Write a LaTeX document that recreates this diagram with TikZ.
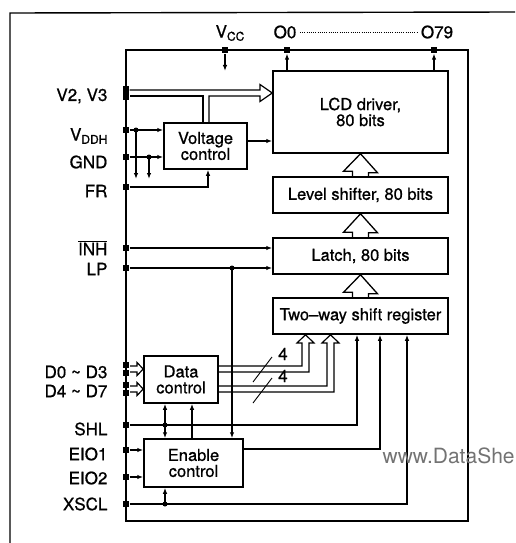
\documentclass[tikz,border=0pt]{standalone}
\usepackage{fontspec}
\setmainfont{TeX Gyre Heros}
\newfontfamily\heavy{TeX Gyre Heros}[FakeBold=0.8]
\usetikzlibrary{arrows.meta,calc}
\begin{document}
\begin{tikzpicture}[x=1pt,y=-1pt, line width=1.2pt,
  cbox/.style={draw, rectangle, line width=1.5pt, inner sep=0pt, align=center, font=\heavy\fontsize{16.5}{16}\selectfont},
  lbl/.style={anchor=east, inner sep=0pt, font=\heavy\fontsize{17}{17}\selectfont},
  toplbl/.style={inner sep=0pt, font=\heavy\fontsize{17}{17}\selectfont},
  pinsq/.style={rectangle, fill, minimum size=6pt, inner sep=0pt},
  jdot/.style={circle, fill, minimum size=5pt, inner sep=0pt},
  arr/.style={-{Latex[length=6pt,width=4.5pt]}},
  darr/.style={{Latex[length=6pt,width=4.5pt]}-{Latex[length=6pt,width=4.5pt]}},
]
\useasboundingbox (0,0) rectangle (515,543);
% outer frame
\draw[line width=1.4pt] (10,543) -- (10,13) -- (515,12);
% chip boundary
\node[draw, line width=1.3pt, minimum width=342pt, minimum height=471pt, inner sep=0pt] (chip) at (297,285.5) {};
% boxes
\node[cbox, minimum width=175pt, minimum height=82pt] (lcd) at (360.5,112) {LCD driver,\\80 bits};
\node[cbox, minimum width=83pt, minimum height=46pt] (vc) at (205.5,146) {Voltage\\control};
\node[cbox, minimum width=175pt, minimum height=36pt] (lvl) at (360.5,195) {Level shifter, 80 bits};
\node[cbox, minimum width=175pt, minimum height=36pt] (latch) at (360.5,256) {Latch, 80 bits};
\node[cbox, minimum width=175pt, minimum height=36pt] (sr) at (360.5,316) {Two–way shift register};
\node[cbox, minimum width=74pt, minimum height=47pt] (dc) at (181,379.5) {Data\\control};
\node[cbox, minimum width=99pt, minimum height=48pt] (ec) at (193.5,463) {Enable\\control};
% pins
\node[pinsq] (pvcc) at (225,50) {};
\node[pinsq] (po0) at (287,50) {};
\node[pinsq] (po79) at (434,50) {};
\node[fill, minimum width=6pt, minimum height=14pt, inner sep=0pt] (pv23) at (126,93) {};
\node[pinsq] (pvddh) at (126,130) {};
\node[pinsq] (pgnd) at (126,157) {};
\node[pinsq] (pfr) at (126,187) {};
\node[pinsq] (pinh) at (126,248) {};
\node[pinsq] (plp) at (126,268) {};
\node[pinsq] (pd0a) at (126,365) {};
\node[pinsq] (pd0b) at (126,373) {};
\node[pinsq] (pd4a) at (126,385) {};
\node[pinsq] (pd4b) at (126,393) {};
\node[pinsq] (pshl) at (126,425) {};
\node[pinsq] (peio1) at (126,450) {};
\node[pinsq] (peio2) at (126,477) {};
\node[pinsq] (pxscl) at (126,504) {};
% labels
\node[lbl] (lv23) at (108,96) {V2, V3};
\node[lbl] (lvddh) at (108,136) {V\raisebox{-0.35ex}{\fontsize{12}{12}\selectfont DDH}};
\node[lbl] (lgnd) at (108,162) {GND};
\node[lbl] (lfr) at (108,191) {FR};
\node[lbl] (linh) at (108,248) {$\overline{\mbox{\heavy INH}}$};
\node[lbl] (llp) at (108,269) {LP};
\node[lbl] (ld0) at (108,372) {D0 \textasciitilde{} D3};
\node[lbl] (ld4) at (108,391) {D4 \textasciitilde{} D7};
\node[lbl] (lshl) at (108,429) {SHL};
\node[lbl] (leio1) at (108,454) {EIO1};
\node[lbl] (leio2) at (108,478) {EIO2};
\node[lbl] (lxscl) at (108,504) {XSCL};
\node[toplbl] (lvcc) at (230,33) {V\raisebox{-0.35ex}{\fontsize{12}{12}\selectfont CC}};
\node[toplbl] (lo0) at (285,32) {O0};
\node[toplbl] (lo79) at (437,32) {O79};
\draw[line width=0.7pt, dash pattern=on 1pt off 1.2pt] ([xshift=3pt]lo0.east) -- ([xshift=-3pt]lo79.west);
% top connections
\coordinate (vccend) at (225,71);
\draw[arr] (pvcc) -- (vccend);
\draw[arr] (lcd.north -| po0) -- (po0);
\draw[arr] (lcd.north -| po79) -- (po79);
% V2,V3 bus
\draw (pv23.east |- 0,90) -- (260,90) -- (260,84.5) -- (lcd.west |- 0,93) -- (260,101.5) -- (260,96) -- (209,96) -- (vc.north -| 209,0);
\draw (vc.north -| 203,0) -- (203,96) -- (pv23.east |- 0,96);
% VDDH, GND, FR
\draw[arr] (pvddh) -- (vc.west |- pvddh);
\node[jdot] (j1) at (136,130) {};
\coordinate (vddhend) at (136,179);
\draw[arr] (j1.center) -- (vddhend);
\draw[arr] (pgnd) -- (vc.west |- pgnd);
\node[jdot] (j2) at (149,157) {};
\coordinate (gndend) at (149,179);
\draw[arr] (j2.center) -- (gndend);
\draw[arr] (pfr) -| ($(vc.south)+(2.5,0)$);
\draw[arr] (vc.east |- 0,141) -- (lcd.west |- 0,141);
% big hollow arrows
\draw[line width=1.3pt] (lvl.north) ++(-8,0) -- ++(0,-5) -- ++(-9,0) -- (lcd.south) -- ++(17,19) -- ++(-9,0) -- ++(0,5);
\draw[line width=1.3pt] (latch.north) ++(-8,0) -- ++(0,-5) -- ++(-9,0) -- (lvl.south) -- ++(17,19) -- ++(-9,0) -- ++(0,5);
\draw[line width=1.3pt] (sr.north) ++(-8,0) -- ++(0,-5) -- ++(-9,0) -- (latch.south) -- ++(17,19) -- ++(-9,0) -- ++(0,5);
% INH, LP
\draw[arr] (pinh) -- (latch.west |- pinh);
\draw[arr] (plp) -- (latch.west |- plp);
\node[jdot] (j3) at (232,268) {};
\draw[arr] (j3.center) -- (ec.north -| j3);
% data inputs
\draw (130,366) -- (137,366) -- (137,362.5) -- (dc.west |- 0,369) -- (137,375.5) -- (137,372) -- (130,372);
\draw (130,386) -- (137,386) -- (137,382.5) -- (dc.west |- 0,389) -- (137,395.5) -- (137,392) -- (130,392);
% data buses
\draw (dc.east |- 0,366) -- (302,366) -- (302,343) -- (297,343) -- (sr.south -| 305.5,0) -- (314,343) -- (309,343) -- (309,372) -- (dc.east |- 0,372);
\draw (dc.east |- 0,386) -- (327,386) -- (327,343) -- (322,343) -- (sr.south -| 330.5,0) -- (339,343) -- (334,343) -- (334,392) -- (dc.east |- 0,392);
\draw[line width=0.9pt] (253,382) -- (272,357);
\draw[line width=0.9pt] (253,403) -- (272,378);
\node[toplbl] (n4a) at (283,354) {4};
\node[toplbl] (n4b) at (283,376) {4};
% SHL
\draw[arr] (pshl) -| (sr.south -| 357,0);
\node[jdot] (j4) at (165,425) {};
\draw[darr] (dc.south -| j4) -- (ec.north -| j4);
\draw[arr] (ec.north -| 192,0) -- (dc.south -| 192,0);
% EIO
\draw[arr] (peio1) -- (ec.west |- peio1);
\draw[arr] (peio2) -- (ec.west |- peio2);
\draw[arr] (ec.east |- 0,449) -| (sr.south -| 380,0);
% XSCL
\draw[arr] (pxscl) -| (sr.south -| 407,0);
\node[jdot] (j5) at (165,504) {};
\draw[arr] (j5.center) -- (ec.south -| j5);
% watermark
\node[anchor=west, inner sep=0pt, text=black!55, font=\fontsize{21}{21}\selectfont] (wm) at (382,456) {www.DataShe};
\end{tikzpicture}
\end{document}
